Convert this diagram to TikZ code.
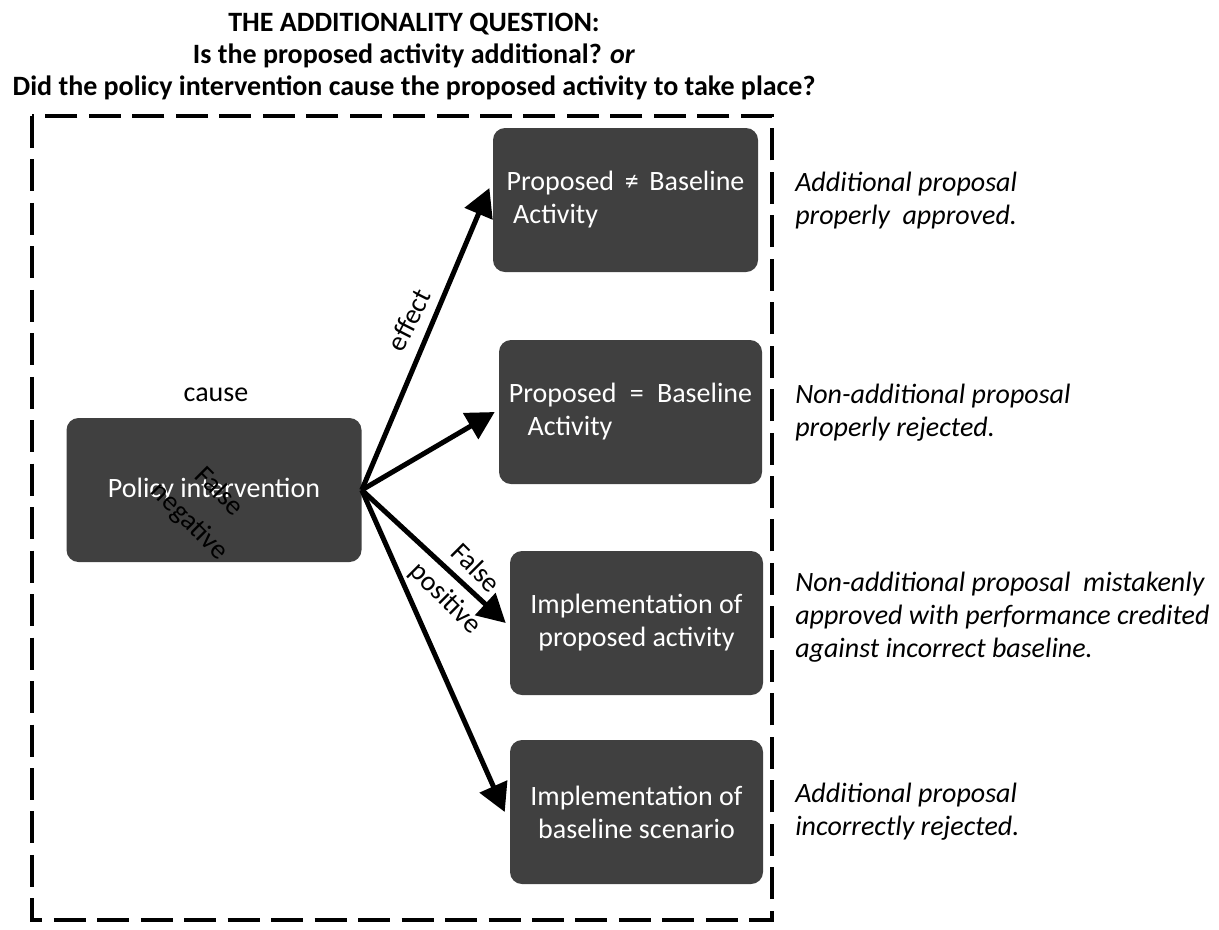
\documentclass[tikz,border=0pt]{standalone}
\usepackage{fontspec}
\setmainfont{Carlito}
\usetikzlibrary{arrows.meta}
\definecolor{boxgray}{RGB}{64,64,64}
\begin{document}
\begin{tikzpicture}[x=0.75pt,y=-0.75pt,
  box/.style={fill=boxgray, rounded corners=9pt, text=white, font=\fontsize{21}{24.75}\selectfont, inner sep=0pt},
  arr/.style={line width=3.75pt, -{Triangle[length=21pt,width=22pt]}},
  note/.style={font=\fontsize{21}{24.75}\selectfont\itshape, anchor=west, align=left, inner sep=0pt},
  lbl/.style={font=\fontsize{21}{31.5}\selectfont, align=center, inner sep=0pt},
  frame/.style={draw, line width=3pt, dash pattern=on 24pt off 8.6pt}]
\useasboundingbox (0,0) rectangle (1219,929);
% title
\node[font=\bfseries\fontsize{21}{24}\selectfont, align=center] (title) at (414,57)
  {THE ADDITIONALITY QUESTION:\\Is the proposed activity additional? \textit{or}\\Did the policy intervention cause the proposed activity to take place?};
% dashed frame
\draw[frame] (32,116) rectangle (772,920);
% boxes
\node[box, minimum width=221.25pt, minimum height=108pt] (P) at (214,490) {Policy intervention};
\node[box, minimum width=198.75pt, minimum height=108pt, align=left] (B1) at (625.5,200)
  {Proposed\hspace{8pt}≠\hspace{8pt}Baseline\\\hspace{5pt}Activity};
\node[box, minimum width=197.25pt, minimum height=108pt, align=left] (B2) at (630.5,412)
  {Proposed\hspace{10pt}=\hspace{10pt}Baseline\\\hspace{14pt}Activity};
\node[box, minimum width=189.75pt, minimum height=108pt, align=center] (B3) at (636.5,623)
  {Implementation of\\proposed activity};
\node[box, minimum width=189.75pt, minimum height=108pt, align=center] (B4) at (636.5,812)
  {Implementation of\\baseline scenario};
% cause label
\node[lbl] (cause) at (216,395) {cause};
% arrows
\draw[arr] (P.east) -- ([xshift=-2.5pt,yshift=9pt]B1.west);
\draw[arr] (P.east) -- ([xshift=-3pt]B2.west);
\draw[arr] (P.east) -- ([xshift=-3pt]B3.west);
\draw[arr] (P.east) -- ([xshift=-3.75pt]B4.west);
% arrow labels
\node[lbl, rotate=63] (effect) at (409,320) {effect};
\node[lbl, rotate=-45] (fp) at (460,584) {False\\positive};
\node[lbl, rotate=-45] (fn) at (204,507) {False\\negative};
% notes
\node[note] (T1) at (795,201) {Additional proposal\\properly\ \ approved.};
\node[note] (T2) at (795,413) {Non-additional proposal\\properly rejected.};
\node[note] (T3) at (795,617) {Non-additional proposal\ \ mistakenly\\approved with performance credited\\against incorrect baseline.};
\node[note] (T4) at (795,812) {Additional proposal\\incorrectly rejected.};
\end{tikzpicture}
\end{document}
